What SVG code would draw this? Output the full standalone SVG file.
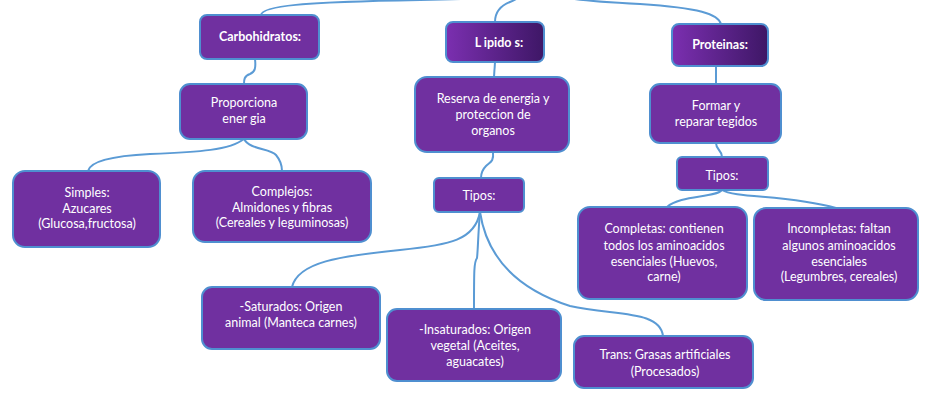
<svg xmlns="http://www.w3.org/2000/svg" width="931" height="403" viewBox="0 0 931 403">
<style>
.n{fill:#7030a0;stroke:#4f8fd0;stroke-width:2}
.g{stroke:#4f8fd0;stroke-width:2}
.c{fill:none;stroke:#5b9bd5;stroke-width:2}
text{font-family:Lato,"Liberation Sans",sans-serif;font-size:12.5px;fill:#fff;text-anchor:middle}
.b{font-weight:bold}
</style>
<defs>
<linearGradient id="pg" x1="0" y1="0" x2="1" y2="0">
<stop offset="0" stop-color="#7b2fb0"/>
<stop offset="1" stop-color="#3e1766"/>
</linearGradient>
</defs>
<g id="connectors">
<path class="c" d="M261,15 C262,6 300,2 420,0 C470,-1 500,-2 520,-4"/>
<path class="c" d="M495,22 C495,12 500,6 510,2 C515,0 518,-2 520,-4"/>
<path class="c" d="M721,24 C718,14 700,8 640,4 C600,2 570,0 560,-4"/>
<path class="c" d="M255,59 C256,68 255,72 250,74 C244,76 244,80 244,84"/>
<path class="c" d="M495,62 L494,77"/>
<path class="c" d="M493,152 C494,162 490,162 486,166 C482,170 481,174 481,178"/>
<path class="c" d="M244,139 C230,150 200,152 150,154 C110,156 90,162 88,171"/>
<path class="c" d="M244,139 C250,150 270,148 276,155 C281,161 282,166 282,171"/>
<path class="c" d="M480,212 C475,240 450,245 400,250 C340,256 298,262 292,287"/>
<path class="c" d="M480,212 C478,235 478,250 477,258 C474,262 474,270 474,309"/>
<path class="c" d="M480,212 C485,245 505,285 570,306 C615,316 660,310 663,336"/>
<path class="c" d="M716,66 L716,84"/>
<path class="c" d="M716,143 C716,150 722,150 722,157"/>
<path class="c" d="M722,190 C715,198 680,195 667,207"/>
<path class="c" d="M722,190 C735,198 790,195 836,208"/>
</g>
<g id="carbohidratos"><rect class="n" x="200" y="15" width="119" height="44" rx="7"/><text class="b" x="260" y="41">Carbohidratos:</text></g>
<g id="lipidos"><rect class="g" fill="url(#pg)" x="446" y="22" width="98" height="40" rx="7"/><text class="b" x="499" y="47">L ipido s:</text></g>
<g id="proteinas"><rect class="g" fill="url(#pg)" x="672" y="24" width="96" height="42" rx="7"/><text class="b" x="720" y="49">Proteinas:</text></g>
<g id="proporciona"><rect class="n" x="180" y="84" width="127" height="55" rx="10"/><text x="244" y="107">Proporciona</text><text x="244" y="123">ener gia</text></g>
<g id="reserva"><rect class="n" x="415" y="77" width="154" height="75" rx="12"/><text x="493" y="103">Reserva de energia y</text><text x="493" y="119">proteccion de</text><text x="493" y="135">organos</text></g>
<g id="tipos-lipidos"><rect class="n" x="434" y="178" width="90" height="34" rx="5"/><text x="479" y="200">Tipos:</text></g>
<g id="simples"><rect class="n" x="13" y="171" width="147" height="76" rx="12"/><text x="87" y="197">Simples:</text><text x="87" y="213">Azucares</text><text x="87" y="228">(Glucosa,fructosa)</text></g>
<g id="complejos"><rect class="n" x="193" y="171" width="178" height="71" rx="12"/><text x="282" y="196">Complejos:</text><text x="282" y="212">Almidones y fibras</text><text x="282" y="227">(Cereales y leguminosas)</text></g>
<g id="formar"><rect class="n" x="650" y="84" width="131" height="59" rx="10"/><text x="716" y="110">Formar y</text><text x="716" y="126">reparar tegidos</text></g>
<g id="tipos-proteinas"><rect class="n" x="677" y="157" width="91" height="33" rx="5"/><text x="722" y="180">Tipos:</text></g>
<g id="completas"><rect class="n" x="578" y="207" width="169" height="92" rx="12"/><text x="664" y="233">Completas: contienen</text><text x="664" y="250">todos los aminoacidos</text><text x="664" y="266">esenciales (Huevos,</text><text x="664" y="281">carne)</text></g>
<g id="incompletas"><rect class="n" x="754" y="208" width="164" height="92" rx="12"/><text x="839" y="233">Incompletas: faltan</text><text x="839" y="250">algunos aminoacidos</text><text x="839" y="266">esenciales</text><text x="839" y="281">(Legumbres, cereales)</text></g>
<g id="saturados"><rect class="n" x="202" y="287" width="178" height="62" rx="10"/><text x="291" y="311">-Saturados: Origen</text><text x="291" y="327">animal (Manteca carnes)</text></g>
<g id="insaturados"><rect class="n" x="387" y="309" width="174" height="72" rx="10"/><text x="475" y="334">-Insaturados: Origen</text><text x="475" y="350">vegetal (Aceites,</text><text x="475" y="366">aguacates)</text></g>
<g id="trans"><rect class="n" x="574" y="336" width="179" height="52" rx="10"/><text x="665" y="359">Trans: Grasas artificiales</text><text x="665" y="376">(Procesados)</text></g>
</svg>
